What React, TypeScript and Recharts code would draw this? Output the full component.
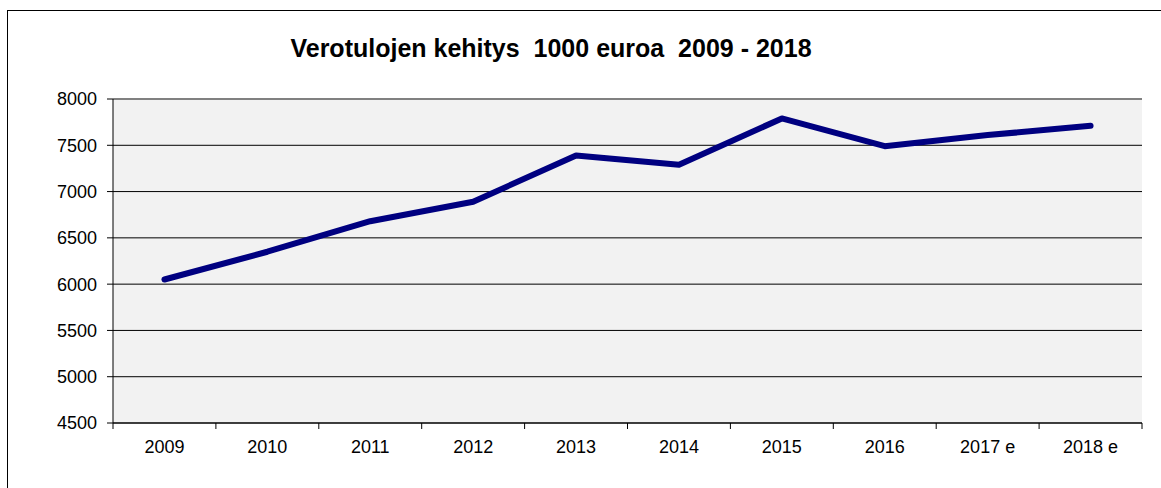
import { LineChart, Line, XAxis, YAxis, CartesianGrid, ReferenceLine } from 'recharts'

const years = ['2009', '2010', '2011', '2012', '2013', '2014', '2015', '2016', '2017 e', '2018 e']
const taxIncome = [6050, 6350, 6680, 6890, 7390, 7290, 7790, 7490, 7610, 7710]
const yTicks = [4500, 5000, 5500, 6000, 6500, 7000, 7500, 8000]

const data = years.map((year, i) => ({ year, value: taxIncome[i] }))

const W = 1161
const H = 488
const FONT = '"Liberation Sans", Arial, sans-serif'
const TICK_SIZE = 6
const TICK_MARGIN = 11
// half a category band, used for the boundary tick marks
const HALF_BAND = (1142 - 113) / years.length / 2

function YearTick(props: any) {
  const { x, y, payload, index } = props
  const axisY = y - TICK_SIZE - TICK_MARGIN
  return (
    <g>
      <line x1={x - HALF_BAND} x2={x - HALF_BAND} y1={axisY} y2={axisY + TICK_SIZE} stroke="#000" />
      {index === years.length - 1 && (
        <line x1={x + HALF_BAND} x2={x + HALF_BAND} y1={axisY} y2={axisY + TICK_SIZE} stroke="#000" />
      )}
      <text x={x} y={y} dy="0.71em" textAnchor="middle" fill="#000" fontSize={18} fontFamily={FONT}>
        {payload.value}
      </text>
    </g>
  )
}

export default function App() {
  return (
    <div style={{ position: 'absolute', left: 0, top: 0, width: W, height: H, background: '#fff', overflow: 'hidden' }}>
      <div
        style={{
          position: 'absolute',
          left: 7,
          top: 10,
          width: 1300,
          height: 600,
          border: '1px solid #000',
        }}
      />
      <div
        style={{
          position: 'absolute',
          left: 0,
          width: 1102,
          top: 34,
          textAlign: 'center',
          fontFamily: FONT,
          fontWeight: 'bold',
          fontSize: 25,
          whiteSpace: 'pre',
          color: '#000',
        }}
      >
        {'Verotulojen kehitys  1000 euroa  2009 - 2018'}
      </div>
      <div style={{ position: 'absolute', left: 0, top: 0 }}>
        <LineChart width={W} height={H} data={data} margin={{ top: 99, right: 19, left: 0, bottom: 35 }}>
          <CartesianGrid vertical={false} stroke="#000" fill="#f2f2f2" fillOpacity={1} />
          <XAxis
            dataKey="year"
            scale="band"
            height={30}
            stroke="#000"
            tickLine={false}
            tickSize={TICK_SIZE}
            tickMargin={TICK_MARGIN}
            interval={0}
            tick={<YearTick />}
          />
          <YAxis
            width={113}
            domain={[4500, 8000]}
            ticks={yTicks}
            interval={0}
            stroke="#000"
            tickSize={TICK_SIZE}
            tickMargin={10}
            tick={{ fill: '#000', fontSize: 18, fontFamily: FONT }}
          />
          <YAxis yAxisId="right" orientation="right" width={0} stroke="#808080" strokeWidth={2} tick={false} tickLine={false} />
          <ReferenceLine y={8000} stroke="#808080" strokeWidth={2} />
          <Line
            type="linear"
            dataKey="value"
            stroke="#000080"
            strokeWidth={6}
            strokeLinecap="round"
            strokeLinejoin="round"
            dot={false}
            activeDot={false}
            isAnimationActive={false}
          />
        </LineChart>
      </div>
    </div>
  )
}
